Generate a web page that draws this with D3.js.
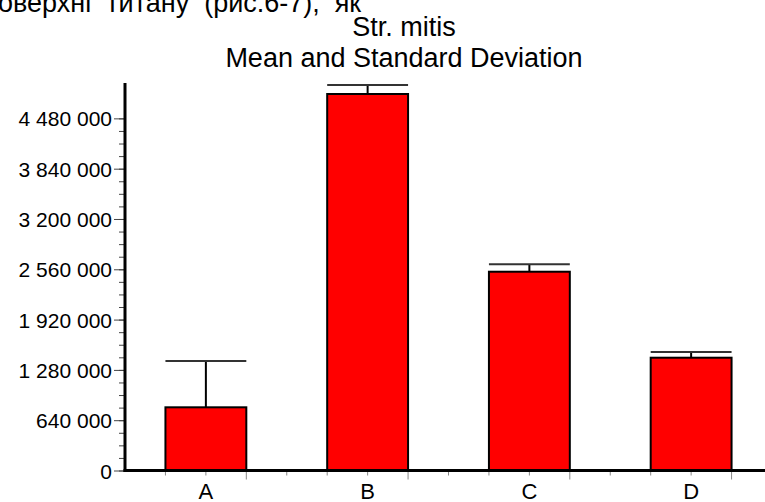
<!DOCTYPE html>
<html>
<head>
<meta charset="utf-8">
<script src="https://cdn.jsdelivr.net/npm/d3@7"></script>
<style>
  body { margin: 0; background: #fff; }
  svg { display: block; font-family: "Liberation Sans", Arial, sans-serif; }
</style>
</head>
<body>
<svg id="chart" width="765" height="502"></svg>
<script>
// data
const categories = ['A', 'B', 'C', 'D'];
const means = [804000, 4790000, 2529000, 1435000];
const stdDevs = [590000, 115000, 95000, 73000];
const yTickValues = [0, 640000, 1280000, 1920000, 2560000, 3200000, 3840000, 4480000];
const headerText = 'оверхні  титану  (рис.6-7),  як';
const titleLines = ['Str. mitis', 'Mean and Standard Deviation'];

const svg = d3.select('#chart');
const margin = { top: 83, right: -7, bottom: 31.5, left: 125 };
const width = 765 - margin.left - margin.right;
const height = 502 - margin.top - margin.bottom;

const locale = d3.formatLocale({ decimal: ',', thousands: ' ', grouping: [3], currency: ['', ''] });
const fmt = locale.format(',d');

// scanned text line above the chart (cut at the top edge as in the scan)
svg.append('text')
  .attr('x', -2)
  .attr('y', 12)
  .attr('font-size', 27)
  .attr('xml:space', 'preserve')
  .style('white-space', 'pre')
  .text(headerText);

svg.selectAll('.title')
  .data(titleLines)
  .enter()
  .append('text')
  .attr('class', 'title')
  .attr('x', 404)
  .attr('y', (d, i) => 36 + i * 31)
  .attr('text-anchor', 'middle')
  .attr('font-size', 27)
  .text(d => d);

const g = svg.append('g')
  .attr('transform', `translate(${margin.left},${margin.top})`);

const x = d3.scaleBand()
  .domain(categories)
  .range([0, width])
  .paddingInner(0.5)
  .paddingOuter(0.25);

const y = d3.scaleLinear()
  .domain([0, 4930000])
  .range([height, 0]);

// minor y ticks, only up to the last labelled tick
const minorY = d3.range(0, 4480001, 160000);
g.append('g')
  .attr('class', 'y-minor')
  .call(d3.axisLeft(y).tickValues(minorY).tickSize(6).tickFormat(''))
  .call(a => a.select('.domain').remove())
  .call(a => a.selectAll('line').attr('stroke', '#444').attr('stroke-width', 1));

// major y ticks with labels
g.append('g')
  .attr('class', 'y-axis')
  .call(d3.axisLeft(y).tickValues(yTickValues).tickSize(11).tickPadding(2).tickFormat(fmt))
  .call(a => a.select('.domain').remove())
  .call(a => a.selectAll('line').attr('stroke', '#444').attr('stroke-width', 1))
  .call(a => a.selectAll('text').attr('font-size', 21).attr('fill', '#000').attr('font-family', null).attr('dy', '0.36em'));

// x ticks: quarter steps, longer at band centres
const step = x.step();
const xTicks = d3.range(1, 16).map(k => k * step / 4);
g.append('g')
  .attr('class', 'x-ticks')
  .selectAll('line')
  .data(xTicks)
  .enter()
  .append('line')
  .attr('x1', d => d)
  .attr('x2', d => d)
  .attr('y1', height)
  .attr('y2', (d, i) => height + ((i + 2) % 4 === 0 ? 9 : 5))
  .attr('stroke', '#888')
  .attr('stroke-width', 1);

g.selectAll('.xlabel')
  .data(categories)
  .enter()
  .append('text')
  .attr('class', 'xlabel')
  .attr('x', d => x(d) + x.bandwidth() / 2)
  .attr('y', height + 28)
  .attr('text-anchor', 'middle')
  .attr('font-size', 22)
  .text(d => d);

// bars
g.selectAll('.bar')
  .data(categories)
  .enter()
  .append('rect')
  .attr('class', 'bar')
  .attr('x', d => x(d))
  .attr('y', (d, i) => y(means[i]))
  .attr('width', x.bandwidth())
  .attr('height', (d, i) => height - y(means[i]))
  .attr('fill', '#ff0000')
  .attr('stroke', '#000')
  .attr('stroke-width', 2);

// error bars
g.selectAll('.err')
  .data(categories)
  .enter()
  .append('line')
  .attr('class', 'err')
  .attr('x1', d => x(d) + x.bandwidth() / 2)
  .attr('x2', d => x(d) + x.bandwidth() / 2)
  .attr('y1', (d, i) => y(means[i]))
  .attr('y2', (d, i) => y(means[i] + stdDevs[i]))
  .attr('stroke', '#000')
  .attr('stroke-width', 2);

g.selectAll('.cap')
  .data(categories)
  .enter()
  .append('line')
  .attr('class', 'cap')
  .attr('x1', d => x(d))
  .attr('x2', d => x(d) + x.bandwidth())
  .attr('y1', (d, i) => y(means[i] + stdDevs[i]))
  .attr('y2', (d, i) => y(means[i] + stdDevs[i]))
  .attr('stroke', '#333')
  .attr('stroke-width', 2);

// axis lines
g.append('line')
  .attr('x1', 0).attr('x2', 0)
  .attr('y1', 0).attr('y2', height + 1.5)
  .attr('stroke', '#000').attr('stroke-width', 3);
g.append('line')
  .attr('x1', -1.5).attr('x2', width)
  .attr('y1', height).attr('y2', height)
  .attr('stroke', '#000').attr('stroke-width', 3);
</script>
</body>
</html>
